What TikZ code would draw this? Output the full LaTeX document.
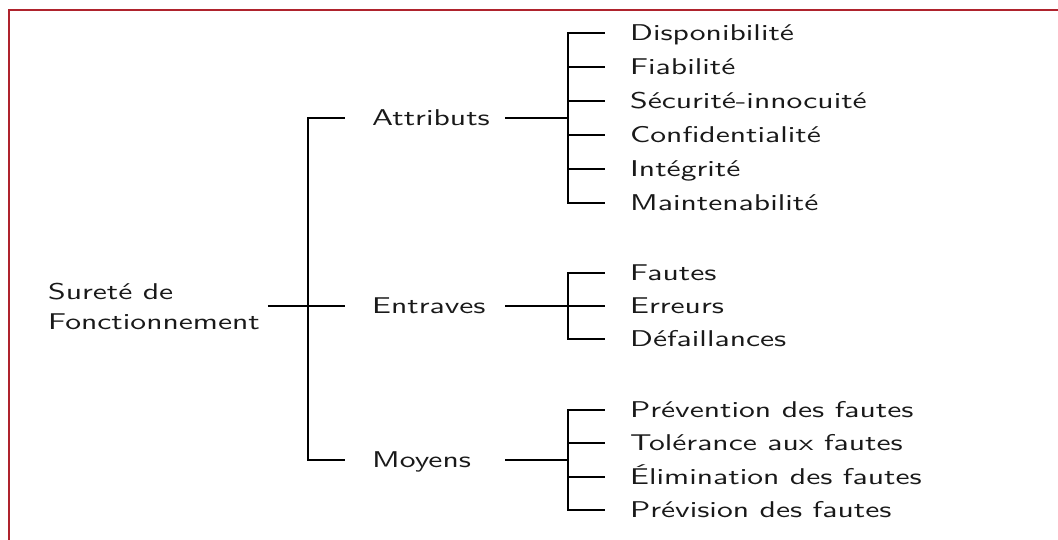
\documentclass[tikz,border=0pt]{standalone}
\usepackage{graphicx}
\definecolor{frame}{RGB}{175,35,45}
\definecolor{ink}{RGB}{25,25,25}
% 10pt sans design, enlarged and widened
\newcommand{\wide}[1]{\scalebox{3.16}[2.28]{#1}}

\begin{document}
\begin{tikzpicture}[x=1pt,y=-1pt,
  lbl/.style={inner sep=0pt, anchor=west, text height=15.8pt, text depth=0pt,
              text=ink, font=\sffamily\fontsize{10}{30}\selectfont},
  wire/.style={draw=black, line width=1.4pt},
]
\useasboundingbox (0,0) rectangle (1058,540);
\fill[white] (0,0) rectangle (1058,540);
\draw[frame, line width=2pt] (8.5,540) -- (8.5,10) -- (1058,10);

% root
\node[lbl, align=left, text height=, text depth=, anchor=west] (root) at (48,306)
  {\wide{Sureté de}\\\wide{Fonctionnement}};

% first level
\node[lbl] (attr) at (372,118) {\wide{Attributs}};
\node[lbl] (entr) at (372,306) {\wide{Entraves}};
\node[lbl] (moy)  at (372,460) {\wide{Moyens}};

% leaves: attributes
\node[lbl] (a1) at (630,33)  {\wide{Disponibilité}};
\node[lbl] (a2) at (630,67)  {\wide{Fiabilité}};
\node[lbl] (a3) at (630,101) {\wide{Sécurité-innocuité}};
\node[lbl] (a4) at (630,135) {\wide{Confidentialité}};
\node[lbl] (a5) at (630,169) {\wide{Intégrité}};
\node[lbl] (a6) at (630,203) {\wide{Maintenabilité}};

% leaves: impairments
\node[lbl] (e1) at (630,273) {\wide{Fautes}};
\node[lbl] (e2) at (630,306) {\wide{Erreurs}};
\node[lbl] (e3) at (630,339) {\wide{Défaillances}};

% leaves: means
\node[lbl] (m1) at (630,410) {\wide{Prévention des fautes}};
\node[lbl] (m2) at (630,443) {\wide{Tolérance aux fautes}};
\node[lbl] (m3) at (630,477) {\wide{Élimination des fautes}};
\node[lbl] (m4) at (630,510) {\wide{Prévision des fautes}};

% forks
\coordinate (rootFork) at (308,306);
\coordinate (attrOut) at (505,118);
\coordinate (attrFork) at (568,118);
\coordinate (entrOut) at (505,306);
\coordinate (entrFork) at (568,306);
\coordinate (moyOut) at (505,460);
\coordinate (moyFork) at (568,460);

% root bracket
\draw[wire] ([xshift=8pt]root.east |- rootFork) -- ([xshift=-27pt]entr.west);
\draw[wire] (rootFork) |- ([xshift=-27pt]attr.west);
\draw[wire] (rootFork) |- ([xshift=-27pt]moy.west);

% attribute bracket
\draw[wire] (attrOut) -- (attrFork);
\foreach \n in {a1,a2,a3,a4,a5,a6}
  \draw[wire] (attrFork) |- ([xshift=-25pt]\n.west);

% impairment bracket
\draw[wire] (entrOut) -- (entrFork);
\foreach \n in {e1,e2,e3}
  \draw[wire] (entrFork) |- ([xshift=-25pt]\n.west);

% means bracket
\draw[wire] (moyOut) -- (moyFork);
\foreach \n in {m1,m2,m3,m4}
  \draw[wire] (moyFork) |- ([xshift=-25pt]\n.west);
\end{tikzpicture}
\end{document}
